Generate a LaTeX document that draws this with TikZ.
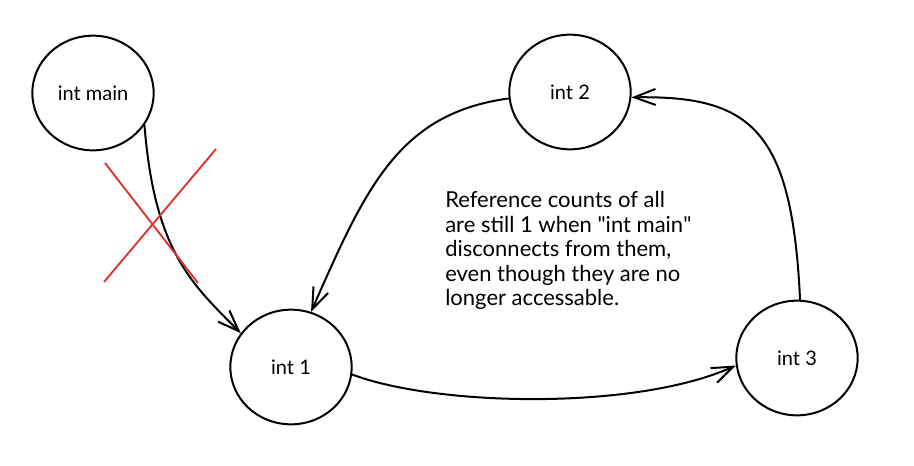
\documentclass[tikz,border=0pt]{standalone}
\usepackage{fontspec}
\setmainfont{Lato}
\usetikzlibrary{shapes.geometric,arrows.meta}

\tikzset{
  bubble/.style={draw, ellipse, line width=1.5pt, minimum width=91pt, minimum height=86pt, inner sep=0pt, font=\fontsize{15}{17}\selectfont},
  link/.style={line width=1.5pt, line cap=round, -{Straight Barb[length=16pt,width=12pt,line width=1.5pt]}},
  cross/.style={color={rgb, 255:red, 224; green, 49; blue, 49 }, line width=1.4pt}
}

\begin{document}
\begin{tikzpicture}[x=0.75pt,y=0.75pt,yscale=-1,xscale=1]
\path[use as bounding box] (0,0) rectangle (914,465);

%Shape: Ellipse [id:main]
\node [bubble] (main) at (93,93) {int main};
%Shape: Ellipse [id:two]
\node [bubble] (two) at (570,92) {int 2};
%Shape: Ellipse [id:one]
\node [bubble] (one) at (291,367) {int 1};
%Shape: Ellipse [id:three]
\node [bubble] (three) at (797,358) {int 3};

%Curve Lines [id:main-one]
\draw [link] (main.-32) .. controls +(10,125) and +(-50,-50) .. (one.146);
%Curve Lines [id:two-one]
\draw [link] (two.186) .. controls +(-110,15) and +(55,-125) .. (one.70);
%Curve Lines [id:one-three]
\draw [link] (one.-7) .. controls +(85,32) and +(-100,45) .. (three.-173);
%Curve Lines [id:three-two]
\draw [link] (three.87) .. controls +(-8,-170) and +(120,-2) .. (two.-5);

%Straight Lines [id:cross-a]
\draw [cross] (105,163) -- (198,283) ;
%Straight Lines [id:cross-b]
\draw [cross] (216,149) -- (104,282) ;

% Text Node
\node [anchor=north west, inner sep=0pt, align=left, font=\fontsize{16.5}{18.4}\selectfont] (note) at (445,191)
  {Reference counts of all\\are still 1 when \textquotedbl int main\textquotedbl\\disconnects from them,\\even though they are no\\longer accessable.};

\end{tikzpicture}
\end{document}
